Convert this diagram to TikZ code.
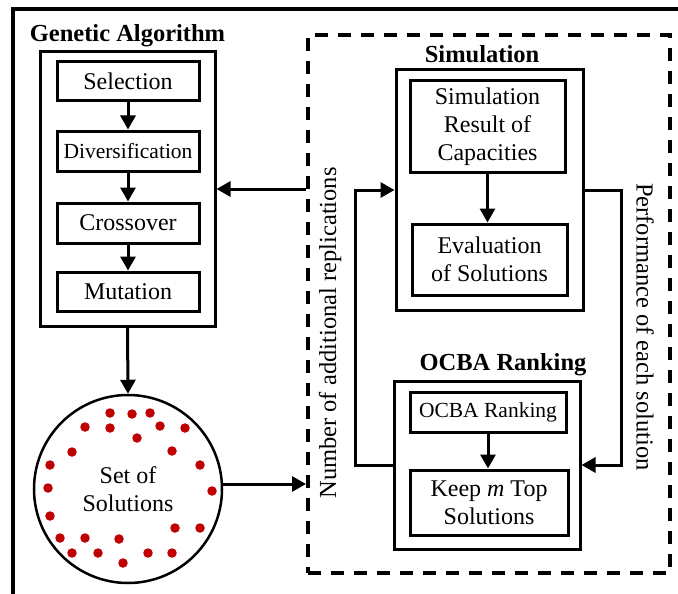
\documentclass[tikz,border=0pt]{standalone}
\usepackage{fontspec}
\setmainfont{Liberation Serif}
\usetikzlibrary{arrows.meta}
\definecolor{dotred}{RGB}{192,0,0}
\begin{document}
\begin{tikzpicture}[x=1pt,y=-1pt,
  box/.style={draw,line width=3pt,inner sep=0pt,align=center,font=\fontsize{24}{28}\selectfont},
  smallbox/.style={box,font=\fontsize{21.5}{26}\selectfont},
  frame/.style={draw,line width=3pt,inner sep=0pt},
  title/.style={font=\fontsize{24.5}{28}\selectfont\bfseries,anchor=base},
  arr/.style={line width=3pt,-{Triangle[length=14pt,width=15pt]}},
  vlabel/.style={font=\fontsize{24.5}{28}\selectfont,inner sep=0pt},
  dot/.style={circle,fill=dotred,inner sep=0pt,minimum size=9.5pt}
]
\useasboundingbox (0,0) rectangle (678,594);
\fill[white] (0,0) rectangle (678,594);
% outer frame (cropped)
\draw[line width=4pt] (13,620) -- (13,9) -- (700,9);

% Genetic algorithm
\node[title] (gatitle) at (127.5,42) {Genetic Algorithm};
\node[frame,minimum width=175pt,minimum height=274pt] (ga) at (127.5,189) {};
\node[box,minimum width=142pt,minimum height=39pt] (sel) at (128,81.5) {Selection};
\node[smallbox,minimum width=142pt,minimum height=40pt] (div) at (128,151) {Diversification};
\node[box,minimum width=142pt,minimum height=40pt] (cro) at (128,223) {Crossover};
\node[box,minimum width=142pt,minimum height=39pt] (mut) at (128,291.5) {Mutation};
\draw[arr] (sel) -- (div);
\draw[arr] (div) -- (cro);
\draw[arr] (cro) -- (mut);

% set of solutions
\node[draw,circle,line width=2.5pt,minimum size=188pt,inner sep=0pt,
      align=center,font=\fontsize{24}{28}\selectfont] (circ) at (128,489) {Set of\\Solutions};
\foreach \px/\py in {110/413,132/414,150/413,85/427,110/428,160/426,185/428,137/438,
  72/452,172/451,50/465,200/465,48/488,212/491,50/516,175/528,200/528,60/538,85/538,
  119/539,72/553,98/553,123/563,148/553,172/553}
  \node[dot] at (\px,\py) {};
\draw[arr] (ga.south) -- (circ.north);

% dashed container
\node[draw,line width=4pt,dash pattern=on 13pt off 10pt,minimum width=362pt,
      minimum height=538pt,inner sep=0pt] (dsh) at (489,304) {};

% Simulation
\node[title] (simtitle) at (482,63) {Simulation};
\node[frame,minimum width=187pt,minimum height=240pt] (sim) at (489.5,190) {};
\node[box,minimum width=155pt,minimum height=91pt] (res) at (487.5,126.5) {Simulation\\Result of\\Capacities};
\node[box,minimum width=155pt,minimum height=71pt] (eva) at (489.5,259.5) {Evaluation\\of Solutions};
\draw[arr] (res) -- (res.south |- eva.north);

% OCBA
\node[title] (ocbatitle) at (503,370) {OCBA Ranking};
\node[frame,minimum width=186pt,minimum height=168pt] (ocba) at (487,465) {};
\node[smallbox,minimum width=156pt,minimum height=40pt] (rank) at (488,412) {OCBA Ranking};
\node[box,minimum width=158pt,minimum height=65pt] (keep) at (489,502.5) {Keep \textit{m} Top\\Solutions};
\draw[arr] (rank) -- (rank.south |- keep.north);

% connectors
\draw[arr] (ocba.west) -- ++(-37,0) |- (sim.west);
\draw[arr] (sim.east) -- ++(37,0) |- (ocba.east);
\draw[arr] (ga.east -| dsh.west) -- (ga.east);
\draw[arr] ([yshift=5pt]circ.east) -- ([yshift=5pt]circ.east -| dsh.west);

% side labels
\node[vlabel,rotate=90] (nrep) at (330,333) {Number of additional replications};
\node[vlabel,rotate=-90] (perf) at (645,327) {Performance of each solution};
\end{tikzpicture}
\end{document}
